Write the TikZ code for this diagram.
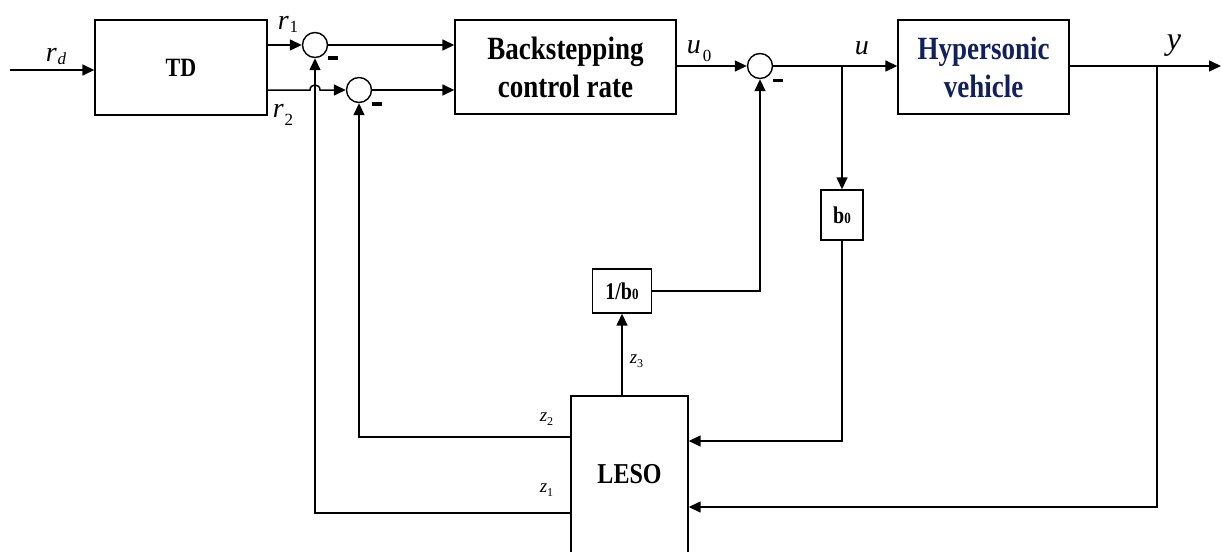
\documentclass[tikz,border=0pt]{standalone}
\usepackage{fontspec}
\setmainfont{Liberation Serif}
\usetikzlibrary{arrows.meta}
\definecolor{hvblue}{RGB}{18,32,92}
\newcommand\tall[1]{\scalebox{1}[1.2]{#1}}
\newcommand\bigit{\fontsize{28}{28}\selectfont\itshape}
\newcommand\subup{\fontsize{17}{17}\selectfont\upshape}
\newcommand\subit{\fontsize{17}{17}\selectfont\itshape}
\newcommand\zit{\fontsize{19}{19}\selectfont\itshape}
\newcommand\zsub{\fontsize{12}{12}\selectfont\upshape}
\begin{document}
\begin{tikzpicture}[x=1pt,y=-1pt,line width=1.5pt,
  blk/.style={draw,line width=1.4pt,inner sep=0pt,align=center,font=\bfseries\fontsize{27}{38}\selectfont},
  sum/.style={draw,circle,minimum size=25pt,inner sep=0pt,line width=1.4pt},
  arr/.style={-{Triangle[length=12pt,width=11pt]}},
  lab/.style={anchor=base west,inner sep=0pt}]
\useasboundingbox (0,0) rectangle (1222,551);
\clip (0,0) rectangle (1222,551);
% blocks
\node[blk,minimum width=172pt,minimum height=95pt,font=\bfseries\fontsize{22}{26}\selectfont] (TD) at (181,67.5) {\tall{TD}};
\node[blk,minimum width=221pt,minimum height=94pt] (BS) at (565.5,67) {\tall{Backstepping}\\\tall{control rate}};
\node[blk,minimum width=171pt,minimum height=94pt,text=hvblue] (HV) at (983.5,67) {\tall{Hypersonic}\\\tall{vehicle}};
\node[blk,minimum width=42pt,minimum height=50pt] (b0) at (842,215) {\tall{{\fontsize{20}{20}\selectfont b}{\fontsize{13}{13}\selectfont 0}}};
\node[blk,minimum width=59pt,minimum height=44pt] (binv) at (622,291) {\tall{{\fontsize{20}{20}\selectfont 1/b}{\fontsize{13}{13}\selectfont 0}}};
\node[blk,minimum width=117pt,minimum height=157pt,font=\bfseries\fontsize{24}{28}\selectfont] (LESO) at (629.5,474.5) {\tall{LESO}};
% summing junctions
\node[sum] (s1) at (315,45) {};
\node[sum] (s2) at (359,90) {};
\node[sum] (s3) at (760,66) {};
% minus signs
\fill (328,56.5) rectangle (338,60);
\fill (372,102) rectangle (382,105.5);
\fill (773,78.5) rectangle (783,82);
% coordinates
\coordinate (rdin) at (10,70);
\coordinate (ju) at (842,66);
\coordinate (jy) at (1157,66);
\coordinate (yout) at (1221,66);
\coordinate (hopa) at (310,90);
\coordinate (hopb) at (320,90);
\coordinate (lb0) at (842,441);
\coordinate (ly) at (1157,507);
\coordinate (lz2) at (359,437);
\coordinate (lz1) at (316,513);
% connectors
\draw[arr] (rdin) -- (TD.west |- rdin);
\draw[arr] (TD.east |- s1) -- (s1.west);
\draw[arr] (TD.east |- s2) -- (hopa) .. controls (310,83.3) and (320,83.3) .. (hopb) -- (s2.west);
\draw[arr] (s1.east) -- (BS.west |- s1);
\draw[arr] (s2.east) -- (BS.west |- s2);
\draw[arr] (BS.east |- s3) -- (s3.west);
\draw[arr] (s3.east) -- (HV.west |- s3);
\draw[arr] (ju) -- (b0.north);
\draw[arr] (b0.south) -- (lb0) -- (LESO.east |- lb0);
\draw[arr] (HV.east |- jy) -- (yout);
\draw[arr] (jy) -- (ly) -- (LESO.east |- ly);
\draw[arr] (LESO.north -| binv) -- (binv.south);
\draw[arr] (binv.east) -- (s3 |- binv.east) -- (s3.south);
\draw[arr] (LESO.west |- lz2) -- (lz2) -- (s2.south);
\draw[arr] (LESO.west |- lz1) -- (s1 |- lz1) -- (s1.south);
% labels
\node[lab] (trd) at (45,62) {\bigit r\hspace{1pt}\raisebox{-2pt}{\subit d}};
\node[lab] (tr1) at (277,30) {\bigit r\hspace{1pt}\raisebox{-3pt}{\subup 1}};
\node[lab] (tr2) at (272,117) {\bigit r\hspace{1pt}\raisebox{-8pt}{\subup 2}};
\node[lab] (tu0) at (686,53) {\bigit u\hspace{2pt}\raisebox{-9pt}{\subup 0}};
\node[lab] (tu) at (854,55) {\bigit u};
\node[lab] (ty) at (1166,50) {\fontsize{32}{32}\selectfont\itshape y};
\node[lab] (tz3) at (629,363) {\zit z\raisebox{-4pt}{\zsub 3}};
\node[lab] (tz2) at (539,421) {\zit z\raisebox{-4pt}{\zsub 2}};
\node[lab] (tz1) at (539,492) {\zit z\raisebox{-4pt}{\zsub 1}};
\end{tikzpicture}
\end{document}
